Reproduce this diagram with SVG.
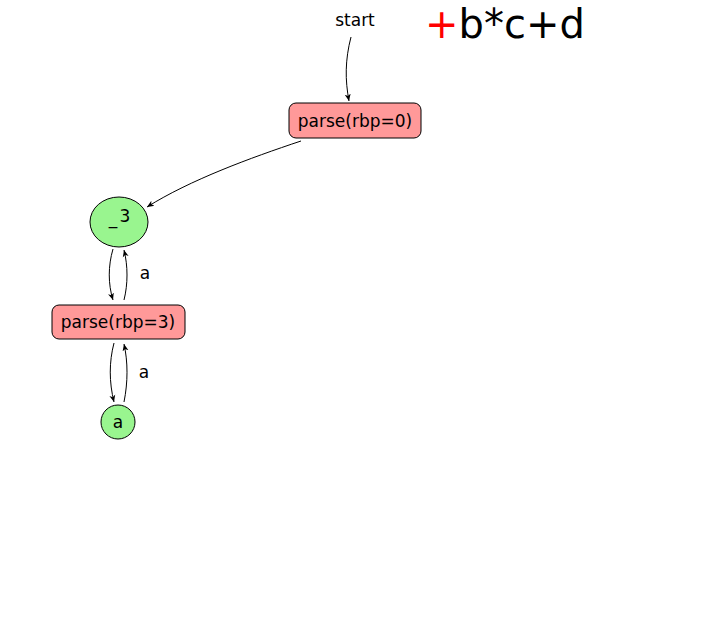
<svg xmlns="http://www.w3.org/2000/svg" width="712" height="644" viewBox="0 0 712 644">
<defs>
<marker id="ah" markerWidth="8" markerHeight="8" refX="7" refY="4" orient="auto" markerUnits="userSpaceOnUse">
<path d="M0,1 L7,4 L0,7 L2,4 Z" fill="#000"/>
</marker>
<style>
text{font-family:"DejaVu Sans",sans-serif;fill:#000}
.box{fill:#ff9999;stroke:#000;stroke-width:1}
.ell{fill:#99f58f;stroke:#000;stroke-width:1}
.lbl{font-size:17px;text-anchor:middle}
.edge{fill:none;stroke:#000;stroke-width:1;marker-end:url(#ah)}
</style>
</defs>
<rect width="712" height="644" fill="#fff"/>
<g id="title">
<text x="425" y="38" font-size="40"><tspan fill="#ff0000">+</tspan>b*c+d</text>
</g>
<g id="start">
<text class="lbl" x="355" y="26" font-size="16">start</text>
</g>
<g id="connectors">
<path class="edge" d="M351,37 C345,60 345,80 349,101"/>
<path class="edge" d="M301,141 C250,158 190,180 147,207"/>
<path class="edge" d="M113,249 C108,266 108,284 113,300"/>
<path class="edge" d="M124,300 C128,284 128,266 124,250"/>
<path class="edge" d="M114,343 C109,362 109,382 114,402"/>
<path class="edge" d="M124,402 C128,382 128,362 124,344"/>
<text class="lbl" x="145" y="279" font-size="16">a</text>
<text class="lbl" x="144" y="378" font-size="16">a</text>
</g>
<g id="parse0">
<rect class="box" x="289" y="103" width="132" height="35" rx="7"/>
<text class="lbl" x="355" y="127">parse(rbp=0)</text>
</g>
<g id="n3">
<ellipse class="ell" cx="119" cy="222" rx="29" ry="25"/>
<text class="lbl" x="113" y="224" font-size="22">_</text>
<text class="lbl" x="125" y="222" font-size="11">3</text>
</g>
<g id="parse3">
<rect class="box" x="52" y="305" width="133" height="34" rx="7"/>
<text class="lbl" x="118" y="328">parse(rbp=3)</text>
</g>
<g id="na">
<circle class="ell" cx="118" cy="422" r="17"/>
<text class="lbl" x="118" y="428">a</text>
</g>
</svg>
